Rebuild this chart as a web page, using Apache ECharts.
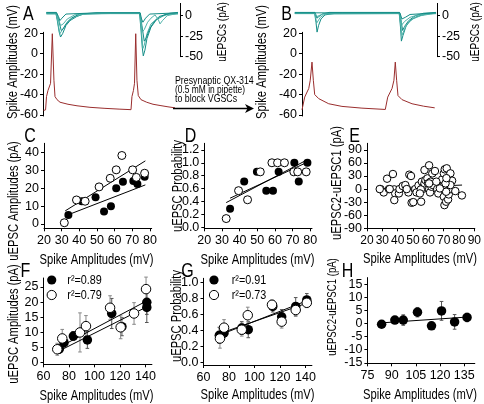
<!DOCTYPE html>
<html><head><meta charset="utf-8">
<script src="https://cdn.jsdelivr.net/npm/echarts@6/dist/echarts.min.js"></script>
<style>html,body{margin:0;padding:0;background:#fff}#c{width:484px;height:404px}</style>
</head><body><div id="c"></div>
<script>
// ---------- Panel A traces: [time ms, value] ----------
const redA = [[0.4,-55.5],[1.9,-55],[2.6,-42],[3.7,-36],[5.6,-29],[6.9,19.6],[8.1,-26],[8.9,-42],[10.4,-45],[12.6,-47.5],[18.5,-49.5],[25.2,-51],[34.8,-52.5],[45.9,-53.5],[57,-54.3],[65.2,-54.8],[65.9,-42],[67,-36],[67.8,-29],[68.7,19.6],[69.6,-26],[70.6,-41],[72.6,-45],[76.8,-47.5],[81.5,-49.5],[86.7,-50.7],[92.6,-52],[97.8,-53]];
const tealA1 = [[2.5,3],[9.5,3],[10.5,-5],[12,-20],[13,-26],[14.5,-22],[17,-12],[20,-6],[25,-1],[30,2],[50,3],[71.5,3],[72.5,-15],[73.5,-38],[74.3,-49],[75.5,-42],[77,-28],[80,-14],[84,-5],[90,1],[100,3]];
const tealA2 = [[2.5,2],[9.8,2],[11,-8],[12.5,-22],[13.5,-20],[15.5,-14],[19,-6],[24,-1],[30,2],[50,2.5],[71.8,2.5],[73,-20],[74,-40],[75,-36],[77,-22],[80,-10],[85,-3],[92,1.5],[100,2]];
const tealA3 = [[2.5,4],[10,4],[11.5,-5],[13.5,-18],[15,-16],[17.5,-9],[21,-3],[27,2],[40,3.5],[71.8,3.5],[73.3,-12],[75,-31],[76.5,-27],[79,-16],[82,-8],[86,-1],[94,3],[100,4]];
const tealA4 = [[2.5,3],[10,3],[11.5,-4],[13,-12],[15,-10],[18,-4],[24,1.5],[40,3],[72,3],[73.5,-20],[75,-17],[77.5,-8],[80,-3],[83,1],[85.5,-5],[86.7,-10],[88.5,-6],[92,0],[100,3]];
const tealA5 = [[2.5,3.5],[10,3.5],[11.5,-1],[12.5,-6],[14,-3],[17,2],[40,3.5],[72,3.5],[73,-4],[74,-8],[76,-3],[79,2],[100,3.5]];
// ---------- Panel B traces ----------
const redB = [[0,-55],[1.3,-55],[2,-42.5],[5,-34],[6.1,-26],[7.4,-8.2],[8.4,-26],[9.4,-40],[12.4,-44],[19.8,-49],[29.6,-51.6],[44.4,-53.3],[61.7,-54.6],[63,-54.6],[63.5,-42.5],[66.7,-34],[68.1,-26],[69.1,-8.2],[70.1,-26],[71.1,-41],[74.1,-45],[81.5,-49],[90.1,-51.4],[98.3,-53]];
const tealB1 = [[-5.4,3],[9.3,3],[10.3,-8],[11.1,-20],[12.2,-12],[14,-4],[17,1],[25,3],[72,3],[73,-15],[73.6,-31],[74.8,-24],[77,-13],[80,-6],[85,-1],[92,2],[99.3,3]];
const tealB2 = [[-5.4,2.5],[9.5,2.5],[10.8,-9],[11.6,-7],[13.5,-2],[17,2],[72,2.5],[73.2,-12],[74,-24],[75.5,-18],[78,-10],[82,-4],[88,0],[95,2],[99.3,2.5]];
const tealB3 = [[-5.4,4],[9.6,4],[11,-3],[12.5,-1],[15,2],[20,4],[72.2,4],[73.6,-8],[74.5,-18],[76,-13],[79,-6],[84,0],[90,3],[99.3,4]];
const tealB4 = [[-5.4,3],[9.5,3],[11,-1],[12,0],[16,2.5],[30,3],[72.3,3],[74,-11],[76,-7],[80,-2],[86,1],[99.3,3]];
const tealB5 = [[-5.4,3.5],[30,3.5],[72.5,3.5],[74,-4],[76.5,-2],[80,1.5],[99.3,3.5]];
// ---------- Panel C ----------
const cSpikeFilled = [33.8,41.4,49.2,54,57.9,60.9,64.7,70.6,72.9,77];
const cAmpFilled   = [5,12.7,14.9,6.9,9.9,19.9,23.6,24,22.3,26.3];
const cSpikeOpen   = [31.5,38.4,43.3,51.2,57.5,60.9,64.1,70.2,72.3,77];
const cAmpOpen     = [0.7,13.4,12.7,20.7,25.5,30.2,38.2,30.2,26,28.3];
const cFitFilled = [[32,4.5],[77.4,21.8]];
const cFitOpen   = [[32,7.3],[77.4,35.2]];
// ---------- Panel D ----------
const dSpikeFilled = [34.6,42.6,49.8,55.1,58.9,62.1,71,73.5,78.4];
const dProbFilled  = [0.29,0.71,0.86,0.57,0.57,0.86,1.0,0.71,1.0];
const dSpikeOpen   = [32.4,39.4,44.5,51.7,58.3,61.5,65.4,70.7,72.9,77.7];
const dProbOpen    = [0.14,0.57,0.43,0.86,1.0,1.0,1.0,0.86,0.86,0.86];
const dFitFilled = [[32.4,0.386],[78.3,1.046]];
const dFitOpen   = [[34.6,0.454],[77.3,0.995]];
// ---------- Panel E ----------
const eSpike = [28.8,30.9,33.1,34.3,36.9,37.8,38.4,37.8,40.8,41.2,43.3,46.1,47,47.6,48.7,49.1,50.2,51.5,52.3,53.6,55.3,55.8,56.2,56.8,57.5,58.1,57.5,59.4,59.8,60.5,60.5,61.1,62,62.6,61.5,63,64.3,65.8,66.5,68.4,69,69.5,70.1,70.7,72,70.1,70.5,71.6,72.9,73.3,73.7,74.4,75.5,74.4,77.6,81.9,71.6,67.5,55.1,54.5,28.3,34.8,45,45.9,60.5,65.2,71.2,71.8];
const eDiff  = [0,-7.7,23.8,0,34.5,-0.8,-10,-25.3,-10,0,6.9,0,-7.7,33,30,-31.4,-30,0,-7.7,8.4,-29,16.9,0,5.4,13,20.7,43.7,24.5,13,54.5,-0.8,-7.7,5.4,36,16.9,9.2,41.4,0,-10,11.5,22.2,5.4,36,45.3,47.6,-17.6,-36.8,-29,-23.8,-12.3,-0.8,36,19.2,9.2,-4.6,-14.6,-6.1,1.5,-0.8,-10,0,0,9.2,0,13,17,13,25];
const eFit = [[27.3,0.7],[82,9.2]];
// ---------- Panel F ----------
const fSpikeFilled = [72.4,76.1,83.4,94.4,113.5,121.5,141,141];
const fAmpFilled   = [4.4,6.5,8.7,7.4,16.2,11.8,19.9,18.2];
const fErrFilled   = [1.5,1.5,1.5,2.8,5,3,4,5];
const fSpikeOpen   = [70.8,74.7,88.6,93.3,112.2,120.5,131,140.4];
const fAmpOpen     = [4.3,7.9,9.9,12,18.1,11.6,16.2,24.3];
const fErrOpen     = [2,3,6.5,3.5,4,3.8,3.6,4];
const fFitFilled = [[72.4,5.0],[141,20.4]];
const fFitOpen   = [[73,3.9],[141,18.4]];
// ---------- Panel G ----------
const gSpikeFilled = [72.4,76.1,90,95.1,114.3,121.3,132.3,141];
const gProbFilled  = [0.34,0.37,0.43,0.41,0.70,0.57,0.70,0.78];
const gErrFilled   = [0.1,0.06,0.08,0.1,0.07,0.09,0.11,0.08];
const gSpikeOpen   = [72.9,76.1,90,94.7,113.7,121.3,132.3,141];
const gProbOpen    = [0.30,0.435,0.41,0.59,0.72,0.51,0.655,0.745];
const gErrOpen     = [0.12,0.1,0.08,0.1,0.06,0.08,0.08,0.06];
const gFitFilled = [[70.5,0.33],[141,0.77]];
const gFitOpen   = [[70.5,0.35],[141,0.74]];
// ---------- Panel H ----------
const hSpike = [83.8,92,97.2,106,114.7,120.9,129,136.7];
const hDiff  = [-0.3,1.3,1.3,4.3,-0.9,4.8,0.6,2.3];
const hErr   = [0.5,1.3,2,1.8,1.2,3.6,2.8,1.6];
const hFit = [[83,0.2],[138,2.5]];
// ---------- Tick values ----------
const ticksMv = [-60,-40,-20,0,20];
const ticksPa = [-50,-25,0];
const ticksSpikeCD = [20,30,40,50,60,70,80];
const ticksSpikeE = [20,30,40,50,60,70,80,90];
const ticksAmpC = [0,10,20,30,40];
const ticksProbD = [0,0.2,0.4,0.6,0.8,1.0,1.2];
const ticksDiffE = [-90,-60,-30,0,30,60,90];
const ticksSpikeFG = [60,80,100,120,140];
const ticksAmpF = [0,5,10,15,20,25];
const ticksProbG = [0,0.2,0.4,0.6,0.8,1.0];
const ticksSpikeH = [75,90,105,120,135];
const ticksDiffH = [-15,-10,-5,0,5,10,15];

const FONT = "'Liberation Sans',Arial,sans-serif";
const NARROW = 0.8;
const zip = (a,b,c) => a.map((v,i)=> c ? [v,b[i],c[i]] : [v,b[i]]);

const grids = [
  {left:43, top:32.3, width:137, height:83.7},   // 0 A red
  {left:43, top:3.4, width:137, height:53.3},    // 1 A teal
  {left:302, top:32.3, width:135, height:83.7},  // 2 B red
  {left:294, top:3.4, width:143, height:53.3},   // 3 B teal
  {left:44, top:143.3, width:107.7, height:85},  // 4 C
  {left:204.3, top:143.3, width:107.7, height:85}, // 5 D
  {left:367, top:143.3, width:109.5, height:85}, // 6 E
  {left:43.5, top:278, width:108.4, height:86.3}, // 7 F
  {left:203.5, top:278.3, width:108.4, height:86.7}, // 8 G
  {left:367.4, top:277.6, width:107.4, height:85.7}  // 9 H
];

function valAxis(gi, min, max, ticks, pos, fmt, fs){
  return {gridIndex:gi, type:'value', min, max, position:pos,
    axisLine:{show:true, onZero:false, lineStyle:{color:'#000', width:1}},
    axisTick:{show:true, length:3, customValues:ticks, lineStyle:{color:'#000', width:1}},
    axisLabel:{customValues:ticks, margin:pos==='bottom'?6:5, fontSize:fs||12.5, fontFamily:FONT, color:'#000', formatter: fmt || (v=>String(v))},
    splitLine:{show:false}};
}
function hidden(gi,min,max){ return {gridIndex:gi, type:'value', min, max, show:false, splitLine:{show:false}}; }
const f1 = v => v.toFixed(1);

const xAxis = [
  hidden(0,0,101.5), hidden(1,0,101.5), hidden(2,0,100), hidden(3,-6,100),
  valAxis(4,20,81,ticksSpikeCD,'bottom'),
  valAxis(5,20,81,ticksSpikeCD,'bottom'),
  valAxis(6,20,90.3,ticksSpikeE,'bottom',null,12),
  valAxis(7,60,145,ticksSpikeFG,'bottom'),
  valAxis(8,60,145,ticksSpikeFG,'bottom'),
  valAxis(9,75,141.5,ticksSpikeH,'bottom')
];
const yAxis = [
  valAxis(0,-61,21,ticksMv,'left'),
  valAxis(1,-50,15,ticksPa,'right'),
  valAxis(2,-61,21,ticksMv,'left'),
  valAxis(3,-50,15,ticksPa,'right'),
  valAxis(4,-2.4,45,ticksAmpC,'left'),
  valAxis(5,-0.01,1.3,ticksProbD,'left',f1),
  valAxis(6,-90,105,ticksDiffE,'left'),
  valAxis(7,-0.7,28,ticksAmpF,'left'),
  valAxis(8,-0.03,1.05,ticksProbG,'left',f1),
  valAxis(9,-15.2,17.5,ticksDiffH,'left')
];

const series = [];
function trace(gi, data, color, w){ series.push({type:'line', xAxisIndex:gi, yAxisIndex:gi, data, symbol:'none', lineStyle:{color, width:w||1}, z:2, silent:true}); }
function fit(gi, data){ series.push({type:'line', xAxisIndex:gi, yAxisIndex:gi, data, symbol:'none', lineStyle:{color:'#000', width:1}, z:2, silent:true}); }
function dots(gi, data, filled, size){ series.push({type:'scatter', xAxisIndex:gi, yAxisIndex:gi, data, symbol:'circle', symbolSize:size,
  itemStyle: filled ? {color:'#000', opacity:1} : {color:'#fff', borderColor:'#000', borderWidth:1, opacity:1}, z:4, silent:true}); }
function errs(gi, data, color){ series.push({type:'custom', xAxisIndex:gi, yAxisIndex:gi, data, z:1, silent:true,
  renderItem(params, api){
    const x=api.value(0), y=api.value(1), e=api.value(2);
    const a=api.coord([x,y+e]), b=api.coord([x,y-e]); const w=1.8;
    const st={stroke:color, lineWidth:1};
    return {type:'group', children:[
      {type:'line', shape:{x1:a[0],y1:a[1],x2:b[0],y2:b[1]}, style:st},
      {type:'line', shape:{x1:a[0]-w,y1:a[1],x2:a[0]+w,y2:a[1]}, style:st},
      {type:'line', shape:{x1:b[0]-w,y1:b[1],x2:b[0]+w,y2:b[1]}, style:st}]};
  }}); }

const RED = '#9a2e2e', T1 = '#138c86', T2 = '#4fb3aa';
trace(0, redA, RED); trace(2, redB, RED);
[[tealA1,T1],[tealA2,T2],[tealA3,T1],[tealA4,T2],[tealA5,T1]].forEach(([d,c])=>trace(1,d,c,1));
[[tealB1,T1],[tealB2,T2],[tealB3,T1],[tealB4,T2],[tealB5,T1]].forEach(([d,c])=>trace(3,d,c,1));

fit(4,cFitFilled); fit(4,cFitOpen);
dots(4, zip(cSpikeFilled,cAmpFilled), true, 8); dots(4, zip(cSpikeOpen,cAmpOpen), false, 8);
fit(5,dFitFilled); fit(5,dFitOpen);
dots(5, zip(dSpikeFilled,dProbFilled), true, 8); dots(5, zip(dSpikeOpen,dProbOpen), false, 8);
fit(6,eFit);
dots(6, zip(eSpike,eDiff), false, 7.5);
errs(7, zip(fSpikeFilled,fAmpFilled,fErrFilled), '#555'); errs(7, zip(fSpikeOpen,fAmpOpen,fErrOpen), '#888');
fit(7,fFitFilled); fit(7,fFitOpen);
dots(7, zip(fSpikeFilled,fAmpFilled), true, 9.5); dots(7, zip(fSpikeOpen,fAmpOpen), false, 9.5);
errs(8, zip(gSpikeFilled,gProbFilled,gErrFilled), '#555'); errs(8, zip(gSpikeOpen,gProbOpen,gErrOpen), '#888');
fit(8,gFitFilled); fit(8,gFitOpen);
dots(8, zip(gSpikeFilled,gProbFilled), true, 9.5); dots(8, zip(gSpikeOpen,gProbOpen), false, 9.5);
errs(9, zip(hSpike,hDiff,hErr), '#555');
fit(9,hFit);
dots(9, zip(hSpike,hDiff), true, 9.5);

function txt(t, x, y, size, rot, align){
  return {type:'text', x, y, rotation: rot ? Math.PI/2 : 0, scaleX: NARROW, z:10, silent:true,
    style:{text:t, fontSize:size, fontFamily:FONT, fill:'#000', align: align||'center', verticalAlign:'middle'}};
}
const SA = 'Spike Amplitudes (mV)';
const graphic = [
  txt('A',28.3,14.5,20), txt('B',286.7,14.5,20), txt('C',30,136.7,20), txt('D',190.5,136.7,20),
  txt('E',354.7,136.7,20), txt('F',25.5,271,20), txt('G',187.5,271,20), txt('H',347.5,271,20),
  txt(SA,13.5,62,14,true), txt('uEPSCs (pA)',223,32,12.5,true),
  txt(SA,262,62,14,true), txt('uEPSCs (pA)',476,32,12.5,true),
  txt('uEPSC Amplitudes (pA)',14,201,14,true), txt('uEPSC Probability',178.5,186,14,true),
  txt('uEPSC2-uEPSC1 (pA)',337,183,14,true),
  txt('uEPSC Amplitudes (pA)',14,324,14,true), txt('uEPSC Probability',177.5,316,14,true),
  txt('uEPSC2-uEPSC1 (pA)',333,307,12,true),
  txt(SA,96.5,260,14), txt(SA,257.5,260,14), txt(SA,420,259.5,14),
  txt(SA,96.5,396.5,14), txt(SA,257.5,395,14), txt(SA,420,395,14),
  txt('Presynaptic QX-314',175,80.5,11,false,'left'),
  txt('(0.5 mM in pipette)',175,90,10.5,false,'left'),
  txt('to block VGSCs',175,99,11,false,'left'),
  {type:'line', shape:{x1:173,y1:108.5,x2:249,y2:108.5}, style:{stroke:'#000', lineWidth:1.5}, z:10},
  {type:'polygon', shape:{points:[[254,108.5],[245,104],[247.5,108.5],[245,113]]}, style:{fill:'#000'}, z:10},
  // legends F and G
  {type:'circle', shape:{cx:51.7,cy:280,r:4.6}, style:{fill:'#000'}, z:10},
  {type:'circle', shape:{cx:51.7,cy:295,r:4.6}, style:{fill:'#fff', stroke:'#000', lineWidth:1}, z:10},
  txt('r²=0.89',67.3,280,13.5,false,'left'), txt('r²=0.79',67.3,295,13.5,false,'left'),
  {type:'circle', shape:{cx:214,cy:280,r:4.6}, style:{fill:'#000'}, z:10},
  {type:'circle', shape:{cx:214,cy:295,r:4.6}, style:{fill:'#fff', stroke:'#000', lineWidth:1}, z:10},
  txt('r²=0.91',231.7,280,13.5,false,'left'), txt('r²=0.73',231.7,295,13.5,false,'left')
];

const chart = echarts.init(document.getElementById('c'), null, {renderer:'canvas', width:484, height:404});
chart.setOption({animation:false, backgroundColor:'#fff', grid:grids, xAxis, yAxis, series, graphic});
</script></body></html>
